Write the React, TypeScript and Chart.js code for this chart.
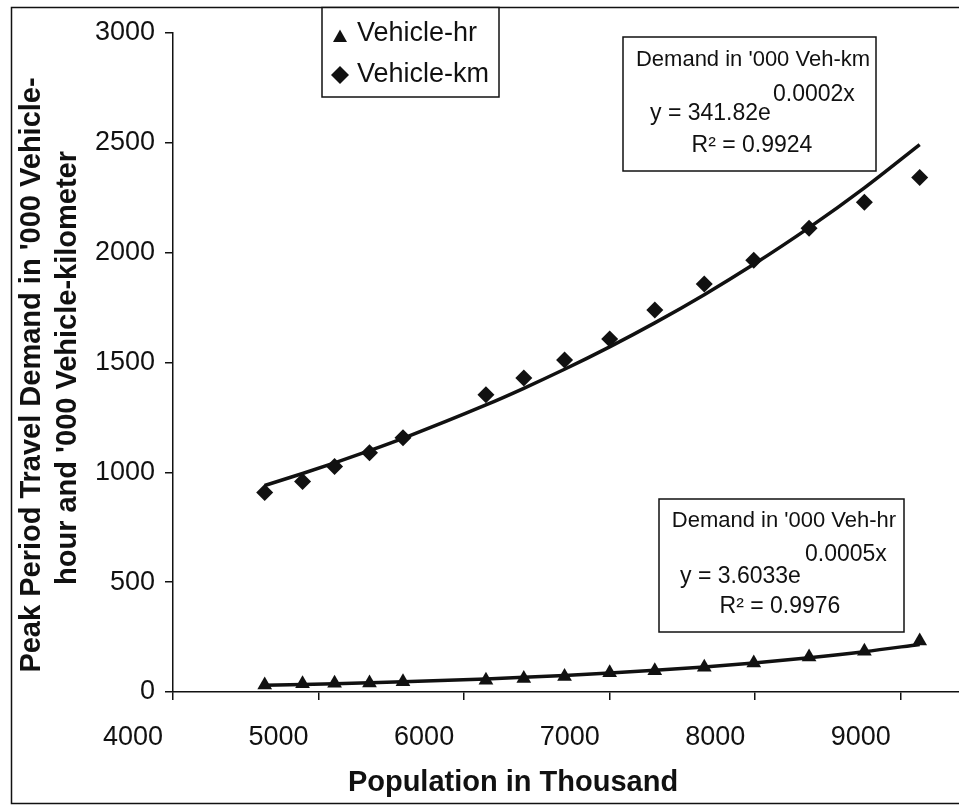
import React, { useEffect, useRef } from 'react';
import { Chart, registerables } from 'chart.js';

Chart.register(...registerables);

// Population (thousand) for each observation
const population = [4630, 4890, 5110, 5350, 5580, 6150, 6410, 6690, 7000, 7310, 7650, 7990, 8370, 8750, 9130];
// Peak period demand, '000 vehicle-hours
const vehicleHr = [32, 38, 40, 41, 47, 54, 62, 70, 88, 97, 113, 132, 159, 186, 232];
// Peak period demand, '000 vehicle-kilometres
const vehicleKm = [908, 958, 1026, 1089, 1157, 1353, 1430, 1511, 1607, 1739, 1857, 1966, 2111, 2229, 2342];

const xTickValues = [4000, 5000, 6000, 7000, 8000, 9000];
const yTickStep = 500;
const seriesLabels = ['Vehicle-hr', 'Vehicle-km'];
const yTitleLines = ["Peak Period Travel Demand in '000 Vehicle-", "hour and '000 Vehicle-kilometer"];
const xTitle = 'Population in Thousand';
const kmFitText = ["Demand in '000 Veh-km", 'y = 341.82e', '0.0002x', 'R² = 0.9924'];
const hrFitText = ["Demand in '000 Veh-hr", 'y = 3.6033e', '0.0005x', 'R² = 0.9976'];

const FONT = '"Liberation Sans", Arial, sans-serif';
const INK = '#111';

// Least-squares exponential trend y = a·e^(bx), fitted on ln(y)
function expFit(xs: number[], ys: number[]) {
  const n = xs.length;
  const ls = ys.map((v) => Math.log(v));
  const mx = xs.reduce((s, v) => s + v, 0) / n;
  const ml = ls.reduce((s, v) => s + v, 0) / n;
  let sxy = 0;
  let sxx = 0;
  for (let i = 0; i < n; i++) {
    sxy += (xs[i] - mx) * (ls[i] - ml);
    sxx += (xs[i] - mx) * (xs[i] - mx);
  }
  const b = sxy / sxx;
  const a = Math.exp(ml - b * mx);
  return xs.map((x) => ({ x, y: a * Math.exp(b * x) }));
}

const toPoints = (ys: number[]) => population.map((x, i) => ({ x, y: ys[i] }));

function drawFitBox(
  ctx: CanvasRenderingContext2D,
  box: { x: number; y: number; w: number; h: number },
  text: string[],
  pos: { titleX: number; titleY: number; eqX: number; eqY: number; supX: number; supY: number; rX: number; rY: number }
) {
  ctx.save();
  ctx.fillStyle = '#fff';
  ctx.fillRect(box.x, box.y, box.w, box.h);
  ctx.strokeStyle = INK;
  ctx.lineWidth = 1.5;
  ctx.strokeRect(box.x, box.y, box.w, box.h);
  ctx.fillStyle = INK;
  ctx.textBaseline = 'middle';
  ctx.font = `22px ${FONT}`;
  ctx.textAlign = 'center';
  ctx.fillText(text[0], pos.titleX, pos.titleY);
  ctx.font = `23px ${FONT}`;
  ctx.textAlign = 'left';
  ctx.fillText(text[1], pos.eqX, pos.eqY);
  ctx.fillText(text[2], pos.supX, pos.supY);
  ctx.textAlign = 'center';
  ctx.fillText(text[3], pos.rX, pos.rY);
  ctx.restore();
}

const decorations = {
  id: 'decorations',
  beforeDraw(chart: Chart) {
    const ctx = chart.ctx;
    ctx.save();
    ctx.fillStyle = '#fff';
    ctx.fillRect(0, 0, chart.width, chart.height);
    ctx.restore();
  },
  afterDraw(chart: Chart) {
    const ctx = chart.ctx;
    ctx.save();

    // outer frame
    ctx.strokeStyle = INK;
    ctx.lineWidth = 1.5;
    ctx.beginPath();
    ctx.moveTo(chart.width + 2, 7.5);
    ctx.lineTo(11.5, 7.5);
    ctx.lineTo(11.5, 803.5);
    ctx.lineTo(chart.width + 2, 803.5);
    ctx.stroke();

    // axis titles
    ctx.fillStyle = INK;
    ctx.textAlign = 'center';
    ctx.textBaseline = 'middle';
    ctx.font = `bold 29px ${FONT}`;
    ctx.fillText(xTitle, 513, 783);
    const yTitlePos = [
      { x: 32, y: 375 },
      { x: 68, y: 368 },
    ];
    yTitleLines.forEach((line, i) => {
      ctx.save();
      ctx.translate(yTitlePos[i].x, yTitlePos[i].y);
      ctx.rotate(-Math.PI / 2);
      ctx.fillText(line, 0, 0);
      ctx.restore();
    });

    // legend
    ctx.fillStyle = '#fff';
    ctx.fillRect(322, 7.5, 177, 89.5);
    ctx.strokeRect(322, 7.5, 177, 89.5);
    ctx.fillStyle = INK;
    ctx.beginPath();
    ctx.moveTo(340, 29.5);
    ctx.lineTo(347, 42);
    ctx.lineTo(333, 42);
    ctx.closePath();
    ctx.fill();
    ctx.beginPath();
    ctx.moveTo(340, 66);
    ctx.lineTo(349, 75);
    ctx.lineTo(340, 84);
    ctx.lineTo(331, 75);
    ctx.closePath();
    ctx.fill();
    ctx.font = `27px ${FONT}`;
    ctx.textAlign = 'left';
    ctx.fillText(seriesLabels[0], 357, 34);
    ctx.fillText(seriesLabels[1], 357, 75);
    ctx.restore();

    drawFitBox(ctx, { x: 623, y: 37, w: 253, h: 134 }, kmFitText, {
      titleX: 753, titleY: 60, eqX: 650, eqY: 114, supX: 773, supY: 95, rX: 752, rY: 146,
    });
    drawFitBox(ctx, { x: 659, y: 499, w: 245, h: 133 }, hrFitText, {
      titleX: 784, titleY: 521, eqX: 680, eqY: 577, supX: 805, supY: 555, rX: 780, rY: 607,
    });
  },
};

export default function App() {
  const canvasRef = useRef<HTMLCanvasElement>(null);

  useEffect(() => {
    document.body.style.margin = '0';
    const canvas = canvasRef.current;
    if (!canvas) return;

    const axisGrid = {
      drawOnChartArea: false,
      drawTicks: true,
      tickLength: 8,
      color: INK,
      lineWidth: 1.5,
    };
    const plainNumber = (value: number | string) => String(value);

    const chart = new Chart(canvas, {
      type: 'scatter',
      data: {
        datasets: [
          {
            label: seriesLabels[0],
            data: toPoints(vehicleHr),
            pointStyle: 'triangle',
            pointRadius: 8.5,
            backgroundColor: INK,
            borderWidth: 0,
          },
          {
            label: seriesLabels[1],
            data: toPoints(vehicleKm),
            pointStyle: 'rectRot',
            pointRadius: 8.5,
            backgroundColor: INK,
            borderWidth: 0,
          },
          {
            label: 'Vehicle-hr trend',
            data: expFit(population, vehicleHr),
            showLine: true,
            pointRadius: 0,
            borderColor: INK,
            borderWidth: 3.5,
            cubicInterpolationMode: 'monotone',
          },
          {
            label: 'Vehicle-km trend',
            data: expFit(population, vehicleKm),
            showLine: true,
            pointRadius: 0,
            borderColor: INK,
            borderWidth: 3.5,
            cubicInterpolationMode: 'monotone',
          },
        ],
      },
      options: {
        animation: false,
        responsive: false,
        devicePixelRatio: 1,
        layout: { autoPadding: false, padding: { left: 0, top: 33, right: 0, bottom: 0 } },
        plugins: {
          legend: { display: false },
          tooltip: { enabled: false },
        },
        scales: {
          x: {
            type: 'linear',
            min: 4000,
            max: 9400,
            afterBuildTicks: (scale: any) => {
              scale.ticks = xTickValues.map((value) => ({ value }));
            },
            afterFit: (scale: any) => {
              scale.height = 113;
              scale.paddingLeft = 0;
              scale.paddingRight = 0;
            },
            ticks: {
              color: INK,
              font: { size: 27, family: FONT },
              labelOffset: -40,
              padding: 21,
              maxRotation: 0,
              autoSkip: false,
              callback: plainNumber,
            },
            grid: axisGrid,
            border: { color: INK, width: 1.5 },
          },
          y: {
            type: 'linear',
            min: 0,
            max: 3000,
            afterFit: (scale: any) => {
              scale.width = 173;
              scale.paddingTop = 0;
              scale.paddingBottom = 0;
            },
            ticks: {
              stepSize: yTickStep,
              color: INK,
              font: { size: 27, family: FONT },
              padding: 10,
              callback: plainNumber,
            },
            grid: axisGrid,
            border: { color: INK, width: 1.5 },
          },
        },
      },
      plugins: [decorations],
    } as any);

    return () => chart.destroy();
  }, []);

  return (
    <div style={{ width: 959, height: 805 }}>
      <canvas ref={canvasRef} width={959} height={805} style={{ display: 'block' }} />
    </div>
  );
}
